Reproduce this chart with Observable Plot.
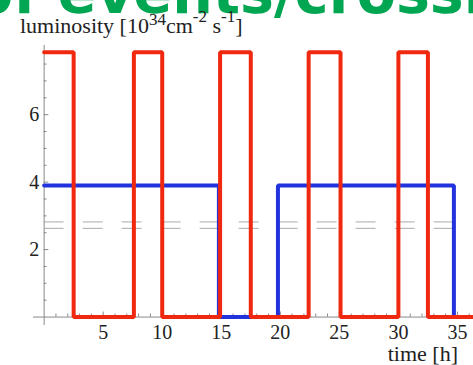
<!DOCTYPE html>
<html>
<head>
<meta charset="utf-8">
<script src="https://cdn.jsdelivr.net/npm/d3@7"></script>
<script src="https://cdn.jsdelivr.net/npm/@observablehq/plot@0.6"></script>
<style>
  html, body { margin: 0; padding: 0; background: #fff; }
  #wrap { position: relative; width: 473px; height: 365px; overflow: hidden; }
  #chart { position: absolute; left: 0; top: 0; }
</style>
</head>
<body>
<div id="wrap">
  <div id="chart"></div>
</div>
<script>
// Red series: luminosity level changes (step-after)
const redTimes  = [0, 2.5, 7.6, 10, 14.9, 17.5, 22.4, 25.1, 30, 32.5, 36.4];
const redValues = [7.85, 0, 7.85, 0, 7.85, 0, 7.85, 0, 7.85, 0, 0];
// Blue series
const blueTimes  = [0, 14.8, 19.8, 34.7, 36.4];
const blueValues = [3.9, 0, 3.9, 0, 0];
// Dashed reference levels
const dashLevels = [2.82, 2.63];
// Tick labels
const xTickLabels = [5, 10, 15, 20, 25, 30, 35];
const yTickLabels = [2, 4, 6];

const red = redTimes.map((t, i) => ({t, v: redValues[i]}));
const blue = blueTimes.map((t, i) => ({t, v: blueValues[i]}));
const xMinor = d3.range(1, 37);
const yMinor = d3.range(0.5, 8, 0.5);
const serif = "Liberation Serif, Times New Roman, serif";

const chart = Plot.plot({
  width: 473,
  height: 365,
  marginLeft: 33,
  marginRight: 0,
  marginTop: 45,
  marginBottom: 40,
  x: {domain: [-0.9, 36.36], axis: null},
  y: {domain: [-0.25, 8.05], axis: null},
  style: {background: "#fff", fontFamily: serif},
  marks: [
    Plot.ruleX([0], {stroke: "#888", strokeWidth: 1}),
    Plot.ruleY([0], {stroke: "#888", strokeWidth: 1}),
    Plot.ruleX(xMinor, {x: d => d, y1: 0, y2: d => d % 5 === 0 ? 0.15 : 0.09, stroke: "#888", strokeWidth: 1}),
    Plot.ruleY(yMinor, {y: d => d, x1: 0, x2: d => d % 2 === 0 ? 0.4 : 0.25, stroke: "#888", strokeWidth: 1}),
    Plot.ruleY(dashLevels, {y: d => d, x1: 0, x2: 35, stroke: "#aaa", strokeWidth: 1, strokeDasharray: "20,19"}),
    Plot.line(blue, {x: "t", y: "v", curve: "step-after", stroke: "#2233dd", strokeWidth: 4, strokeLinejoin: "miter"}),
    Plot.line(red, {x: "t", y: "v", curve: "step-after", stroke: "#f0280f", strokeWidth: 4, strokeLinejoin: "miter"}),
    Plot.text(xTickLabels, {x: d => d, y: 0, dy: 8, lineAnchor: "top", text: d => String(d), fontSize: 20, fontFamily: serif, fill: "#222"}),
    Plot.text(yTickLabels, {x: 0, y: d => d, dx: -5, textAnchor: "end", text: d => String(d), fontSize: 20, fontFamily: serif, fill: "#222"})
  ]
});
document.getElementById("chart").appendChild(chart);

const svg = d3.select(chart);
// Slide title, cut off at the top edge
svg.append("text")
  .attr("x", -26).attr("y", 13).attr("text-anchor", "start")
  .attr("font-family", "DejaVu Sans, Verdana, sans-serif").attr("font-weight", "bold")
  .attr("font-size", 57).attr("fill", "#00a651")
  .text("of events/crossing");

// Axis titles (with superscripts)
const lum = svg.append("text")
  .attr("x", 20).attr("y", 33).attr("text-anchor", "start")
  .attr("font-family", serif).attr("font-size", 22).attr("fill", "#222");
lum.append("tspan").text("luminosity [10");
lum.append("tspan").attr("font-size", 17).attr("dy", -8).text("34");
lum.append("tspan").attr("dy", 8).text("cm");
lum.append("tspan").attr("font-size", 17).attr("dy", -11).text("-2");
lum.append("tspan").attr("dy", 11).text(" s");
lum.append("tspan").attr("font-size", 17).attr("dy", -11).text("-1");
lum.append("tspan").attr("dy", 11).text("]");

svg.append("text")
  .attr("x", 458).attr("y", 361).attr("text-anchor", "end")
  .attr("font-family", serif).attr("font-size", 22).attr("fill", "#222")
  .text("time [h]");
</script>
</body>
</html>
